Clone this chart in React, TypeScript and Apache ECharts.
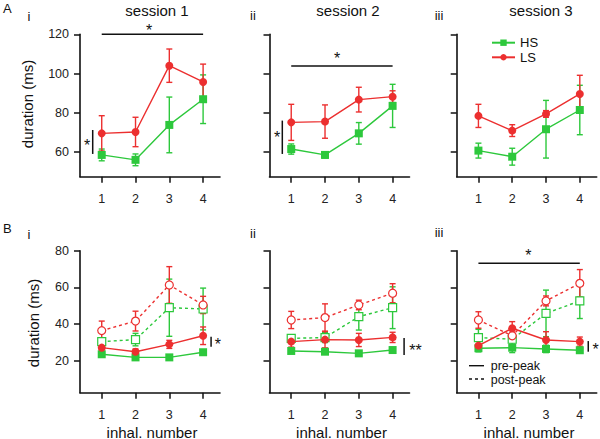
import React, { useEffect, useRef } from "react";
import * as echarts from "echarts";

const FONT = '"Liberation Sans", Arial, Helvetica, sans-serif';
const RED = "#ec2f2f";
const GREEN = "#2dc83c";

const inhal = [1, 2, 3, 4];
const yTicksA = [60, 80, 100, 120];
const yTicksB = [20, 40, 60, 80];

// Panel A (session 1..3): mean and error
const A1_HS = [58.5, 56.0, 73.8, 86.9];
const A1_HS_ERR = [3.0, 3.0, 14.2, 12.4];
const A1_LS = [69.5, 70.2, 104.0, 95.7];
const A1_LS_ERR = [9.0, 7.5, 8.5, 9.1];
const A2_HS = [61.5, 58.5, 69.5, 83.5];
const A2_HS_ERR = [2.6, 1.5, 5.5, 11.0];
const A2_LS = [75.1, 75.5, 86.7, 88.2];
const A2_LS_ERR = [9.2, 8.5, 6.3, 3.0];
const A3_HS = [60.7, 57.6, 71.6, 81.4];
const A3_HS_ERR = [3.8, 4.3, 14.7, 12.6];
const A3_LS = [78.4, 70.9, 79.4, 89.6];
const A3_LS_ERR = [5.9, 3.0, 1.7, 9.5];

// Panel B: pre-peak (solid) and post-peak (dashed)
const B1_HS_PRE = [23.5, 21.8, 21.8, 24.6];
const B1_HS_PRE_ERR = [1.5, 1.0, 1.0, 1.0];
const B1_LS_PRE = [27.1, 24.9, 28.9, 33.6];
const B1_LS_PRE_ERR = [2.5, 1.5, 2.2, 4.8];
const B1_HS_POST = [30.4, 31.5, 48.9, 48.2];
const B1_HS_POST_ERR = [2.0, 3.4, 15.6, 11.4];
const B1_LS_POST = [36.4, 41.6, 61.3, 50.4];
const B1_LS_POST_ERR = [5.2, 5.4, 10.0, 4.7];

const B2_HS_PRE = [25.3, 24.9, 24.0, 25.8];
const B2_HS_PRE_ERR = [1.2, 1.0, 1.0, 1.0];
const B2_LS_PRE = [30.4, 31.5, 31.3, 32.7];
const B2_LS_PRE_ERR = [3.0, 4.5, 3.6, 2.8];
const B2_HS_POST = [32.2, 32.6, 44.0, 48.9];
const B2_HS_POST_ERR = [1.9, 2.7, 7.3, 11.4];
const B2_LS_POST = [42.2, 43.5, 50.4, 56.8];
const B2_LS_POST_ERR = [4.7, 7.5, 2.6, 5.2];

const B3_HS_PRE = [26.8, 27.1, 26.4, 25.7];
const B3_HS_PRE_ERR = [2.0, 2.7, 2.0, 1.5];
const B3_LS_PRE = [28.2, 37.7, 31.3, 30.4];
const B3_LS_PRE_ERR = [3.0, 3.6, 4.5, 2.5];
const B3_HS_POST = [32.6, 31.7, 45.8, 52.6];
const B3_HS_POST_ERR = [4.5, 3.0, 12.7, 9.6];
const B3_LS_POST = [42.2, 33.6, 52.6, 62.2];
const B3_LS_POST_ERR = [4.5, 2.6, 2.7, 7.5];

// significance annotations in data coordinates: [x1, y1, x2, y2, textX, textY]
const SIG_A1 = [[1, 120, 4, 120, 2.4, 123.7], [0.733, 71.2, 0.733, 59, 0.564, 65.1]];
const SIG_A1_TEXT = ["*", "*"];
const SIG_A2 = [[1, 103.8, 4, 103.8, 2.36, 109.4], [0.736, 76, 0.736, 59, 0.58, 69.2]];
const SIG_A2_TEXT = ["*", "*"];
const SIG_A3: number[][] = [];
const SIG_A3_TEXT: string[] = [];
const SIG_B1 = [[4.236, 33.1, 4.236, 27.6, 4.44, 30.7]];
const SIG_B1_TEXT = ["*"];
const SIG_B2 = [[4.34, 32.4, 4.34, 23.1, 4.68, 27.5]];
const SIG_B2_TEXT = ["**"];
const SIG_B3 = [[1, 73.1, 4, 73.1, 2.48, 79.5], [4.25, 30.7, 4.25, 24.9, 4.47, 27.8]];
const SIG_B3_TEXT = ["*", "*"];

const GRID_LEFT = [80, 269.5, 456.7];
const GRID_W = 140;

function errSeries(gi: number, mean: number[], err: number[], color: string, z: number) {
  return {
    type: "custom",
    xAxisIndex: gi,
    yAxisIndex: gi,
    z,
    silent: true,
    data: inhal.map((x, i) => [x, mean[i], err[i]]),
    encode: { x: 0, y: 1 },
    renderItem: (_p: any, api: any) => {
      const x = api.value(0);
      const m = api.value(1);
      const e = api.value(2);
      const t = api.coord([x, m + e]);
      const b = api.coord([x, m - e]);
      const w = 3;
      const st = { stroke: color, lineWidth: 1.4, fill: null };
      return {
        type: "group",
        children: [
          { type: "line", shape: { x1: t[0], y1: t[1], x2: b[0], y2: b[1] }, style: st },
          { type: "line", shape: { x1: t[0] - w, y1: t[1], x2: t[0] + w, y2: t[1] }, style: st },
          { type: "line", shape: { x1: b[0] - w, y1: b[1], x2: b[0] + w, y2: b[1] }, style: st },
        ],
      };
    },
  };
}

function lineSeries(
  gi: number,
  name: string,
  mean: number[],
  color: string,
  symbol: string,
  open: boolean,
  dashed: boolean,
  z: number
) {
  return {
    type: "line",
    name,
    xAxisIndex: gi,
    yAxisIndex: gi,
    z,
    data: inhal.map((x, i) => [x, mean[i]]),
    symbol,
    symbolSize: 8,
    showAllSymbol: true,
    lineStyle: { color, width: 1.4, type: dashed ? [3, 3] : "solid" },
    itemStyle: open
      ? { color: "#ffffff", borderColor: color, borderWidth: 1.2 }
      : { color, borderColor: color, borderWidth: 0 },
    emphasis: { disabled: true },
  };
}

function sigSeries(gi: number, sig: number[][], texts: string[]) {
  return {
    type: "custom",
    xAxisIndex: gi,
    yAxisIndex: gi,
    z: 20,
    silent: true,
    data: sig,
    encode: { x: 0, y: 1 },
    renderItem: (p: any, api: any) => {
      const a = api.coord([api.value(0), api.value(1)]);
      const b = api.coord([api.value(2), api.value(3)]);
      const c = api.coord([api.value(4), api.value(5)]);
      return {
        type: "group",
        children: [
          {
            type: "line",
            shape: { x1: a[0], y1: a[1], x2: b[0], y2: b[1] },
            style: { stroke: "#111", lineWidth: 1.5 },
          },
          {
            type: "text",
            x: c[0],
            y: c[1] + 3.5,
            style: {
              text: texts[p.dataIndex],
              font: `16px ${FONT}`,
              fill: "#111",
              align: "center",
              verticalAlign: "middle",
            },
          },
        ],
      };
    },
  };
}

function makeAxes() {
  const grids: any[] = [];
  const xAxes: any[] = [];
  const yAxes: any[] = [];
  for (let row = 0; row < 2; row++) {
    for (let c = 0; c < 3; c++) {
      const gi = row * 3 + c;
      grids.push({
        left: GRID_LEFT[c],
        width: GRID_W,
        top: row === 0 ? 34.3 : 250.7,
        height: row === 0 ? 142.4 : 142,
        containLabel: false,
      });
      xAxes.push({
        type: "value",
        gridIndex: gi,
        min: 0.357,
        max: 4.5,
        axisLine: { show: true, onZero: false, lineStyle: { color: "#111", width: 1.6 } },
        axisTick: { show: true, inside: false, length: 6, customValues: inhal, lineStyle: { color: "#111", width: 1.5 } },
        axisLabel: { show: true, customValues: inhal, margin: 16, fontSize: 12.5, color: "#222", fontFamily: FONT },
        splitLine: { show: false },
      });
      const ticks = row === 0 ? yTicksA : yTicksB;
      yAxes.push({
        type: "value",
        gridIndex: gi,
        min: row === 0 ? 47.4 : 2.53,
        max: row === 0 ? 120 : 80,
        axisLine: { show: true, onZero: false, lineStyle: { color: "#111", width: 1.6 } },
        axisTick: { show: true, inside: false, length: 6, customValues: ticks, lineStyle: { color: "#111", width: 1.5 } },
        axisLabel: { show: c === 0, customValues: ticks, margin: 11, fontSize: 12.5, color: "#222", fontFamily: FONT },
        splitLine: { show: false },
      });
    }
  }
  return { grids, xAxes, yAxes };
}

function txt(text: string, x: number, y: number, size: number, align = "center", rotation = 0) {
  return {
    type: "text",
    x,
    y,
    rotation,
    silent: true,
    style: { text, font: `${size}px ${FONT}`, fill: "#111", align, verticalAlign: "middle" },
  };
}

export default function App() {
  const ref = useRef<HTMLDivElement>(null);
  useEffect(() => {
    if (!ref.current) return;
    const chart = echarts.init(ref.current, null, { renderer: "svg" });
    const { grids, xAxes, yAxes } = makeAxes();

    const topSets = [
      [A1_HS, A1_HS_ERR, A1_LS, A1_LS_ERR],
      [A2_HS, A2_HS_ERR, A2_LS, A2_LS_ERR],
      [A3_HS, A3_HS_ERR, A3_LS, A3_LS_ERR],
    ];
    const botSets = [
      [B1_HS_PRE, B1_HS_PRE_ERR, B1_LS_PRE, B1_LS_PRE_ERR, B1_HS_POST, B1_HS_POST_ERR, B1_LS_POST, B1_LS_POST_ERR],
      [B2_HS_PRE, B2_HS_PRE_ERR, B2_LS_PRE, B2_LS_PRE_ERR, B2_HS_POST, B2_HS_POST_ERR, B2_LS_POST, B2_LS_POST_ERR],
      [B3_HS_PRE, B3_HS_PRE_ERR, B3_LS_PRE, B3_LS_PRE_ERR, B3_HS_POST, B3_HS_POST_ERR, B3_LS_POST, B3_LS_POST_ERR],
    ];
    const sigs = [
      [SIG_A1, SIG_A1_TEXT],
      [SIG_A2, SIG_A2_TEXT],
      [SIG_A3, SIG_A3_TEXT],
      [SIG_B1, SIG_B1_TEXT],
      [SIG_B2, SIG_B2_TEXT],
      [SIG_B3, SIG_B3_TEXT],
    ] as any[];

    const series: any[] = [];
    topSets.forEach((s, c) => {
      series.push(errSeries(c, s[0], s[1], GREEN, 2));
      series.push(errSeries(c, s[2], s[3], RED, 3));
      series.push(lineSeries(c, "HS", s[0], GREEN, "rect", false, false, 4));
      series.push(lineSeries(c, "LS", s[2], RED, "circle", false, false, 5));
    });
    botSets.forEach((s, c) => {
      const gi = 3 + c;
      series.push(errSeries(gi, s[4], s[5], GREEN, 2));
      series.push(errSeries(gi, s[6], s[7], RED, 2));
      series.push(errSeries(gi, s[0], s[1], GREEN, 3));
      series.push(errSeries(gi, s[2], s[3], RED, 3));
      series.push(lineSeries(gi, "HS post-peak", s[4], GREEN, "rect", true, true, 4));
      series.push(lineSeries(gi, "LS post-peak", s[6], RED, "circle", true, true, 4));
      series.push(lineSeries(gi, "HS pre-peak", s[0], GREEN, "rect", false, false, 5));
      series.push(lineSeries(gi, "LS pre-peak", s[2], RED, "circle", false, false, 5));
    });
    sigs.forEach((s, gi) => {
      if (s[0].length) series.push(sigSeries(gi, s[0], s[1]));
    });

    const graphic: any[] = [
      txt("A", 3, 8, 13, "left"),
      txt("B", 3, 228, 13, "left"),
      txt("i", 29, 16, 13),
      txt("ii", 253, 15, 13),
      txt("iii", 439, 15, 13),
      txt("i", 29, 234, 13),
      txt("ii", 253, 233, 13),
      txt("iii", 439, 232, 13),
      txt("session 1", 157, 10, 15),
      txt("session 2", 348, 10, 15),
      txt("session 3", 541, 10, 15),
      txt("duration (ms)", 27, 104, 15, "center", Math.PI / 2),
      txt("duration (ms)", 33, 323, 15, "center", Math.PI / 2),
      txt("inhal. number", 152, 432, 15),
      txt("inhal. number", 341.5, 432, 15),
      txt("inhal. number", 529, 432, 15),
      {
        type: "line",
        silent: true,
        shape: { x1: 469, y1: 365.7, x2: 484, y2: 365.7 },
        style: { stroke: "#111", lineWidth: 1.4 },
      },
      {
        type: "line",
        silent: true,
        shape: { x1: 469, y1: 379, x2: 484, y2: 379 },
        style: { stroke: "#111", lineWidth: 1.4, lineDash: [3, 3] },
      },
      txt("pre-peak", 490.7, 366, 12.5, "left"),
      txt("post-peak", 490.7, 380, 12.5, "left"),
    ];

    chart.setOption({
      animation: false,
      backgroundColor: "#ffffff",
      grid: grids,
      xAxis: xAxes,
      yAxis: yAxes,
      legend: {
        data: ["HS", "LS"],
        orient: "vertical",
        left: 491,
        top: 36.2,
        padding: 0,
        itemWidth: 23,
        itemHeight: 8,
        itemGap: 1.6,
        selectedMode: false,
        textStyle: { fontSize: 13, fontFamily: FONT, color: "#111" },
      },
      graphic,
      series,
    });
    return () => chart.dispose();
  }, []);
  return (
    <div
      ref={ref}
      style={{ position: "absolute", left: 0, top: 0, width: 600, height: 439 }}
    />
  );
}
